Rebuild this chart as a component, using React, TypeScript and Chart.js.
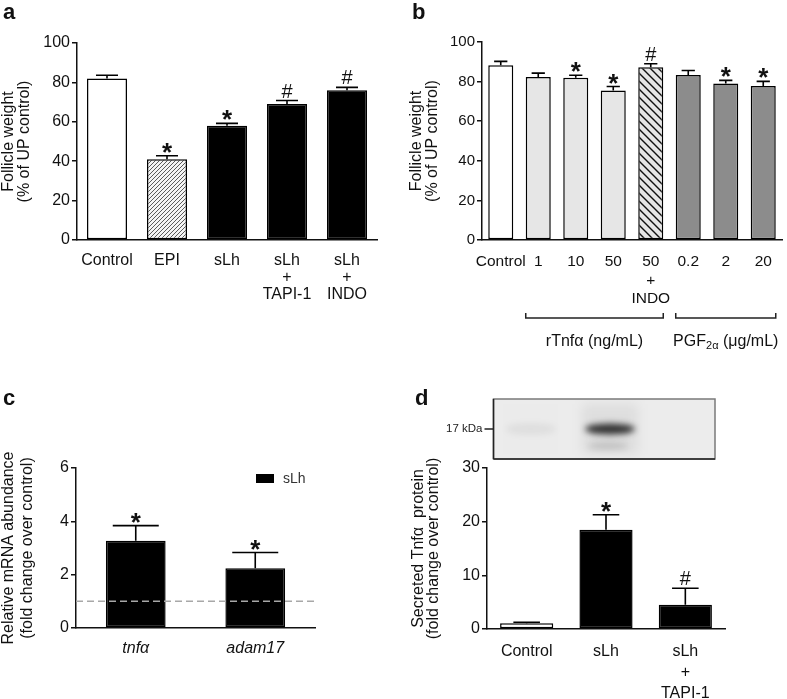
import React, { useEffect, useRef } from 'react';
import { Chart, registerables } from 'chart.js';

Chart.register(...registerables);

const FONT = "'Liberation Sans', Arial, Helvetica, sans-serif";

// ---------- Panel a ----------
const catsA: (string | string[])[] = ['Control', 'EPI', 'sLh', ['sLh', '+', 'TAPI-1'], ['sLh', '+', 'INDO']];
const valsA = [82, 41, 58, 69, 76];
const semA = [1.6, 1.8, 1.2, 1.8, 1.5];
const sigA = ['', '*', '*', '#', '#'];
const titleA = ['Follicle weight', '(% of UP control)'];

// ---------- Panel b ----------
const catsB: (string | string[])[] = ['Control', '1', '10', '50', ['50', '+', 'INDO'], '0.2', '2', '20'];
const valsB = [88.2, 82.3, 82, 75.5, 87.3, 83.3, 79, 77.8];
const semB = [2.0, 2.0, 1.2, 2.0, 1.7, 2.3, 1.6, 2.3];
const sigB = ['', '', '*', '*', '#', '', '*', '*'];
const titleB = ['Follicle weight', '(% of UP control)'];
const groupsB = [
  { parts: [['rTnfα (ng/mL)', 'n']], first: 1, last: 4 },
  { parts: [['PGF', 'n'], ['2α', 'sub'], [' (μg/mL)', 'n']], first: 5, last: 7 },
];

// ---------- Panel c ----------
const catsC = ['tnfα', 'adam17'];
const valsC = [3.27, 2.24];
const semC = [0.57, 0.59];
const sigC = ['*', '*'];
const seriesC = 'sLh';
const refLineC = 1;
const titleC = ['Relative mRNA abundance', '(fold change over control)'];

// ---------- Panel d ----------
const catsD: (string | string[])[] = ['Control', 'sLh', ['sLh', '+', 'TAPI-1']];
const valsD = [1.05, 18.5, 4.5];
const semD = [0.2, 2.8, 3.1];
const sigD = ['', '*', '#'];
const titleD = ['Secreted Tnfα  protein', '(fold change over control)'];
const blotMarker = '17 kDa';
const blotIntensity = [0.07, 1, 0.0];

type Panel = {
  left: number; top: number; width: number; height: number;
  padTop: number; padRight: number; yWidth: number; xHeight: number;
  labels: (string | string[])[]; values: number[]; sem: number[]; sig: string[];
  fills: (ctx: CanvasRenderingContext2D) => any[];
  yMax: number; yStep: number;
  yTitle: string[]; titleSize: number; titleLH: number; titlePad: number;
  tickSize: number; tickPad: number;
  xSize: number; xLH: number; xPad: number; xItalic?: boolean;
  barPct: number; capFrac: number;
  panelLabel: string; plX: number; plY: number;
  seriesLabel: string;
  extra?: (chart: any, p: Panel) => void;
};

function hatch(ctx: CanvasRenderingContext2D, bg: string, fg: string, s: number, lw: number, dir: string) {
  const c = document.createElement('canvas');
  c.width = s; c.height = s;
  const g = c.getContext('2d')!;
  g.fillStyle = bg; g.fillRect(0, 0, s, s);
  g.strokeStyle = fg; g.lineWidth = lw;
  g.beginPath();
  if (dir === '/') {
    g.moveTo(0, s); g.lineTo(s, 0);
    g.moveTo(-1, 1); g.lineTo(1, -1);
    g.moveTo(s - 1, s + 1); g.lineTo(s + 1, s - 1);
  } else {
    g.moveTo(0, 0); g.lineTo(s, s);
    g.moveTo(s - 1, -1); g.lineTo(s + 1, 1);
    g.moveTo(-1, s - 1); g.lineTo(1, s + 1);
  }
  g.stroke();
  return ctx.createPattern(c, 'repeat');
}

const LIGHT = '#e6e6e6';
const DARK = '#8c8c8c';

function drawBrackets(chart: any) {
  const { ctx, chartArea } = chart;
  const meta = chart.getDatasetMeta(0);
  ctx.save();
  groupsB.forEach((g) => {
    const a = meta.data[g.first], b = meta.data[g.last];
    const x0 = a.x - a.width / 2, x1 = b.x + b.width / 2;
    const yb = chartArea.bottom + 78;
    ctx.strokeStyle = '#222'; ctx.lineWidth = 1.5;
    ctx.beginPath();
    ctx.moveTo(x0, yb - 5); ctx.lineTo(x0, yb); ctx.lineTo(x1, yb); ctx.lineTo(x1, yb - 5);
    ctx.stroke();
    const fonts: Record<string, string> = { n: `16px ${FONT}`, sub: `11px ${FONT}` };
    let total = 0;
    g.parts.forEach(([t, k]) => { ctx.font = fonts[k]; total += ctx.measureText(t).width; });
    let x = (x0 + x1) / 2 - total / 2;
    const yt = chartArea.bottom + 106;
    ctx.fillStyle = '#111'; ctx.textAlign = 'left'; ctx.textBaseline = 'alphabetic';
    g.parts.forEach(([t, k]) => {
      ctx.font = fonts[k];
      ctx.fillText(t, x, k === 'sub' ? yt + 3 : yt);
      x += ctx.measureText(t).width;
    });
  });
  ctx.restore();
}

function drawRefAndLegend(chart: any) {
  const { ctx, chartArea, scales } = chart;
  ctx.save();
  const y = scales.y.getPixelForValue(refLineC);
  ctx.strokeStyle = '#a8a8a8'; ctx.lineWidth = 1.5; ctx.setLineDash([7, 4]);
  ctx.beginPath(); ctx.moveTo(chartArea.left, y); ctx.lineTo(chartArea.right, y); ctx.stroke();
  ctx.setLineDash([]);
  const bx = chartArea.right - 59, by = chartArea.top + 6;
  ctx.fillStyle = '#000'; ctx.fillRect(bx, by, 18, 9);
  ctx.font = `14px ${FONT}`; ctx.fillStyle = '#333'; ctx.textAlign = 'left'; ctx.textBaseline = 'middle';
  ctx.fillText(seriesC, bx + 27, by + 5);
  ctx.restore();
}

function drawBlot(chart: any) {
  const { ctx, chartArea } = chart;
  const meta = chart.getDatasetMeta(0);
  const L = chartArea.left + 6.5, R = chartArea.right - 10;
  const T = chartArea.top - 69, B = chartArea.top - 9;
  ctx.save();
  ctx.fillStyle = '#ececec';
  ctx.fillRect(L, T, R - L, B - T);
  ctx.beginPath(); ctx.rect(L, T, R - L, B - T); ctx.clip();
  const bandY = T + 30;
  meta.data.forEach((el: any, i: number) => {
    const k = blotIntensity[i];
    if (k <= 0) return;
    const cx = el.x + 4;
    ctx.filter = 'blur(6px)';
    ctx.fillStyle = `rgba(0,0,0,${0.06 * k})`;
    ctx.fillRect(cx - 28, T + 5, 56, B - T - 10);
    ctx.filter = 'blur(3px)';
    ctx.fillStyle = `rgba(20,20,20,${Math.min(1, 0.85 * k)})`;
    ctx.beginPath(); ctx.ellipse(cx, bandY, 25, 5.5, 0, 0, Math.PI * 2); ctx.fill();
    if (k > 0.5) {
      ctx.fillStyle = `rgba(0,0,0,${0.14 * k})`;
      ctx.beginPath(); ctx.ellipse(cx - 2, bandY + 17, 20, 3.5, 0, 0, Math.PI * 2); ctx.fill();
    }
  });
  ctx.filter = 'none';
  ctx.restore();
  ctx.save();
  ctx.strokeStyle = '#7a7a7a'; ctx.lineWidth = 1.5;
  ctx.strokeRect(L, T, R - L, B - T);
  ctx.strokeStyle = '#222';
  ctx.beginPath(); ctx.moveTo(L, B); ctx.lineTo(R, B); ctx.moveTo(L, T); ctx.lineTo(L, B); ctx.stroke();
  ctx.beginPath(); ctx.moveTo(L - 9, bandY); ctx.lineTo(L, bandY); ctx.stroke();
  ctx.font = `11.5px ${FONT}`; ctx.fillStyle = '#222'; ctx.textAlign = 'right'; ctx.textBaseline = 'middle';
  ctx.fillText(blotMarker, L - 11, bandY);
  ctx.restore();
}

const panels: Panel[] = [
  {
    left: 0, top: 0, width: 390, height: 330, padTop: 43, padRight: 13, yWidth: 77, xHeight: 90,
    labels: catsA, values: valsA, sem: semA, sig: sigA,
    fills: (ctx) => ['#ffffff', hatch(ctx, '#f4f4f4', '#4a4a4a', 4, 0.9, '/'), '#000', '#000', '#000'],
    yMax: 100, yStep: 20, yTitle: titleA, titleSize: 16, titleLH: 1.0, titlePad: 0.3,
    tickSize: 16, tickPad: 2, xSize: 16, xLH: 1.06, xPad: 12.5,
    barPct: 0.667, capFrac: 0.55, panelLabel: 'a', plX: 3, plY: 19, seriesLabel: 'a',
  },
  {
    left: 390, top: 0, width: 397, height: 360, padTop: 42, padRight: 5, yWidth: 92, xHeight: 120,
    labels: catsB, values: valsB, sem: semB, sig: sigB,
    fills: (ctx) => ['#ffffff', LIGHT, LIGHT, LIGHT, hatch(ctx, LIGHT, '#111', 8, 1.4, '\\'), DARK, DARK, DARK],
    yMax: 100, yStep: 20, yTitle: titleB, titleSize: 16, titleLH: 1.0, titlePad: 19,
    tickSize: 15, tickPad: 2, xSize: 15.5, xLH: 1.2, xPad: 12.5,
    barPct: 0.667, capFrac: 0.53, panelLabel: 'b', plX: 22, plY: 19, seriesLabel: 'b',
    extra: drawBrackets,
  },
  {
    left: 0, top: 330, width: 390, height: 369, padTop: 138, padRight: 75, yWidth: 76, xHeight: 71,
    labels: catsC, values: valsC, sem: semC, sig: sigC,
    fills: () => ['#000', '#000'],
    yMax: 6, yStep: 2, yTitle: titleC, titleSize: 16, titleLH: 1.2, titlePad: -1.5,
    tickSize: 16, tickPad: 2, xSize: 16, xLH: 1.15, xPad: 11.5, xItalic: true,
    barPct: 0.5, capFrac: 0.77, panelLabel: 'c', plX: 3, plY: 75, seriesLabel: seriesC,
    extra: drawRefAndLegend,
  },
  {
    left: 390, top: 330, width: 397, height: 369, padTop: 138, padRight: 62, yWidth: 97, xHeight: 70,
    labels: catsD, values: valsD, sem: semD, sig: sigD,
    fills: () => ['#ffffff', '#000', '#000'],
    yMax: 30, yStep: 10, yTitle: titleD, titleSize: 16, titleLH: 0.95, titlePad: 21,
    tickSize: 16, tickPad: 2, xSize: 16, xLH: 1.33, xPad: 11.5,
    barPct: 0.67, capFrac: 0.5, panelLabel: 'd', plX: 25, plY: 75, seriesLabel: 'd',
    extra: drawBlot,
  },
];

function PanelChart({ p }: { p: Panel }) {
  const ref = useRef<HTMLCanvasElement>(null);
  useEffect(() => {
    const canvas = ref.current!;
    const ctx = canvas.getContext('2d')!;
    const annot = {
      id: 'annot',
      afterDatasetsDraw(chart: any) {
        const { ctx: c, scales: { y } } = chart;
        const meta = chart.getDatasetMeta(0);
        c.save();
        meta.data.forEach((el: any, i: number) => {
          const x = el.x, w = el.width;
          const yv = y.getPixelForValue(p.values[i]);
          const ye = y.getPixelForValue(p.values[i] + p.sem[i]);
          c.strokeStyle = '#000'; c.lineWidth = 1.6;
          c.beginPath();
          c.moveTo(x, yv); c.lineTo(x, ye);
          c.moveTo(x - (w * p.capFrac) / 2, ye); c.lineTo(x + (w * p.capFrac) / 2, ye);
          c.stroke();
          const s = p.sig[i];
          if (s) {
            c.font = s === '*' ? `bold 26px ${FONT}` : `20px ${FONT}`;
            c.textAlign = 'center'; c.textBaseline = 'alphabetic';
            const m = c.measureText(s);
            c.fillStyle = '#111';
            c.fillText(s, x, ye - 3 - m.actualBoundingBoxDescent);
          }
        });
        c.restore();
        if (p.extra) p.extra(chart, p);
      },
      afterDraw(chart: any) {
        const c = chart.ctx;
        c.save();
        c.font = `bold 22px ${FONT}`; c.fillStyle = '#111';
        c.textAlign = 'left'; c.textBaseline = 'alphabetic';
        c.fillText(p.panelLabel, p.plX, p.plY);
        c.restore();
      },
    };
    const chart = new Chart(ctx, {
      type: 'bar',
      data: {
        labels: p.labels as any,
        datasets: [{
          label: p.seriesLabel,
          data: p.values,
          backgroundColor: p.fills(ctx) as any,
          borderColor: '#000',
          borderWidth: 1.5,
          borderSkipped: false as any,
          barPercentage: p.barPct,
          categoryPercentage: 1,
        }],
      },
      options: {
        responsive: false,
        animation: false,
        devicePixelRatio: 1,
        layout: { padding: { top: p.padTop, right: p.padRight, left: 0, bottom: 0 } },
        plugins: { legend: { display: false }, tooltip: { enabled: false } },
        scales: {
          x: {
            offset: true,
            grid: { display: false, drawTicks: false },
            border: { display: true, color: '#111', width: 1.5 },
            ticks: {
              color: '#111', padding: p.xPad, maxRotation: 0, autoSkip: false,
              font: { family: FONT, size: p.xSize, lineHeight: p.xLH, style: p.xItalic ? 'italic' : 'normal' },
            },
            afterFit: (s: any) => { s.height = p.xHeight; },
          },
          y: {
            min: 0, max: p.yMax,
            grid: { drawOnChartArea: false, drawTicks: true, tickLength: 5, color: '#111', lineWidth: 1.5 },
            border: { display: true, color: '#111', width: 1.5 },
            ticks: { stepSize: p.yStep, color: '#111', padding: p.tickPad, font: { family: FONT, size: p.tickSize } },
            title: {
              display: true, text: p.yTitle, color: '#111',
              font: { family: FONT, size: p.titleSize, lineHeight: p.titleLH },
              padding: { top: p.titlePad, bottom: 0 },
            },
            afterFit: (s: any) => { s.width = p.yWidth; },
          },
        },
      },
      plugins: [annot],
    });
    return () => chart.destroy();
  }, [p]);
  return (
    <canvas
      ref={ref}
      width={p.width}
      height={p.height}
      style={{ position: 'absolute', left: p.left, top: p.top, width: p.width, height: p.height }}
    />
  );
}

export default function App() {
  return (
    <div style={{ position: 'absolute', left: 0, top: 0, width: 787, height: 699, background: '#fff', overflow: 'hidden' }}>
      {panels.map((p, i) => <PanelChart key={i} p={p} />)}
    </div>
  );
}
